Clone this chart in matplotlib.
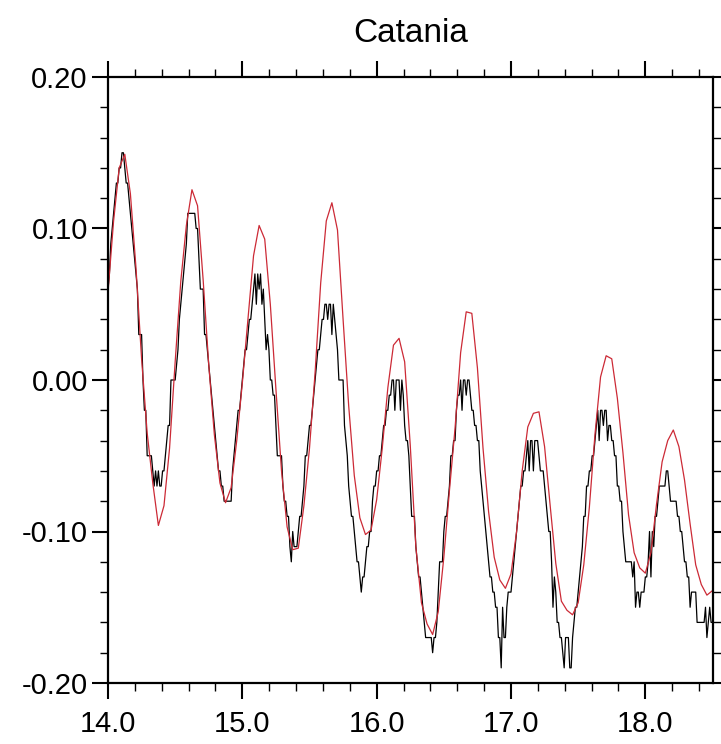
import matplotlib as mpl
mpl.use('Agg')

import numpy as np
import matplotlib.pyplot as plt
from matplotlib.ticker import MultipleLocator, FormatStrFormatter

# observed sea level (cm), sampled every 15 minutes from day 14.0
obs_start = 14.0
obs_per_day = 96
obs_cm = [
    # day 14
    6, 7, 9, 10, 11, 12, 13, 13, 14, 14, 15, 15, 14, 13, 13, 12,
    11, 10, 9, 8, 7, 6, 3, 3, 3, 0, -2, -2, -5, -5, -5, -5,
    -6, -7, -6, -7, -6, -7, -7, -6, -6, -5, -4, -3, -3, 0, 0, 0,
    0, 1, 2, 4, 5, 6, 7, 8, 9, 11, 11, 11, 11, 11, 11, 10,
    10, 8, 6, 6, 6, 3, 3, 2, 1, 0, -1, -2, -3, -4, -5, -6,
    -6, -7, -7, -8, -8, -8, -8, -8, -8, -6, -5, -4, -3, -2, -2, -1,
    # day 15
    0, 1, 2, 2, 3, 4, 4, 5, 6, 7, 5, 7, 6, 7, 5, 6,
    4, 2, 3, 2, 0, 0, -1, -1, -3, -5, -5, -5, -5, -7, -8, -8,
    -9, -9, -11, -12, -10, -11, -11, -11, -10, -9, -9, -8, -7, -5, -5, -4,
    -3, -3, -2, -1, 0, 1, 2, 2, 3, 4, 4, 5, 5, 4, 5, 5,
    3, 5, 4, 3, 2, 0, 0, 0, 0, -3, -4, -5, -7, -8, -9, -9,
    -10, -11, -12, -12, -13, -14, -13, -13, -12, -11, -11, -10, -10, -8, -7, -7,
    # day 16
    -6, -6, -5, -5, -4, -3, -3, -2, -2, -1, -1, 0, 0, -2, 0, 0,
    0, -2, 0, -1, -3, -4, -4, -5, -7, -9, -9, -9, -11, -12, -13, -13,
    -14, -15, -16, -17, -17, -17, -17, -17, -18, -17, -17, -16, -14, -12, -12, -12,
    -10, -9, -9, -8, -7, -5, -5, -4, -4, -2, -1, -1, 0, -2, 0, 0,
    -1, 0, 0, -1, -2, -2, -3, -3, -4, -4, -6, -7, -8, -9, -10, -11,
    -12, -13, -13, -14, -14, -15, -15, -17, -17, -19, -15, -17, -17, -15, -14, -14,
    # day 17
    -14, -13, -12, -11, -10, -9, -8, -7, -7, -6, -6, -5, -4, -6, -4, -4,
    -6, -4, -4, -4, -5, -6, -6, -6, -7, -8, -9, -10, -10, -12, -15, -13,
    -14, -16, -16, -17, -17, -18, -19, -17, -17, -17, -19, -19, -17, -16, -15, -15,
    -14, -13, -12, -11, -9, -9, -7, -7, -6, -6, -5, -5, -4, -3, -2, -4,
    -2, -2, -3, -2, -2, -4, -3, -3, -4, -4, -5, -5, -7, -7, -8, -8,
    -10, -11, -12, -12, -12, -12, -12, -13, -12, -15, -14, -14, -15, -14, -14, -14,
    # day 18
    -13, -13, -12, -10, -13, -10, -11, -9, -9, -8, -7, -7, -7, -7, -7, -6,
    -6, -7, -8, -8, -8, -8, -8, -9, -9, -10, -10, -11, -12, -12, -13, -13,
    -15, -14, -14, -14, -14, -16, -16, -16, -16, -16, -16, -15, -17, -16, -15, -16,
    -16,
]

# model sea level (m), hourly from day 14.0
mod_start = 14.0
mod_per_day = 24
mod_m = [
    0.058, 0.105, 0.140, 0.149, 0.123, 0.074, 0.014, -0.035, -0.068, -0.096,
    -0.083, -0.045, 0.012, 0.065, 0.102, 0.1256, 0.115, 0.066, 0.010, -0.036,
    -0.068, -0.081, -0.071, -0.040, -0.002, 0.040, 0.082, 0.102, 0.093, 0.050,
    -0.006, -0.060, -0.097, -0.112, -0.111, -0.083, -0.045, 0.005, 0.064, 0.105,
    0.117, 0.099, 0.040, -0.017, -0.063, -0.091, -0.102, -0.099, -0.079, -0.045,
    -0.005, 0.023, 0.0275, 0.012, -0.043, -0.110, -0.147, -0.161, -0.168, -0.153,
    -0.117, -0.073, -0.032, 0.018, 0.045, 0.044, 0.008, -0.045, -0.087, -0.117,
    -0.132, -0.1375, -0.128, -0.100, -0.060, -0.031, -0.022, -0.021, -0.044, -0.083,
    -0.121, -0.146, -0.152, -0.155, -0.147, -0.122, -0.084, -0.036, 0.002, 0.016,
    0.014, -0.012, -0.048, -0.089, -0.114, -0.124, -0.1275, -0.114, -0.082, -0.054,
    -0.040, -0.033, -0.044, -0.066, -0.095, -0.122, -0.135, -0.142, -0.139,
]

title = 'Catania'
xticks = [14.0, 15.0, 16.0, 17.0, 18.0]
yticks = [-0.20, -0.10, 0.00, 0.10, 0.20]

plt.rcParams['font.family'] = ['Liberation Sans', 'DejaVu Sans']
plt.rcParams['axes.unicode_minus'] = False

obs_t = obs_start + np.arange(len(obs_cm)) / obs_per_day
obs = np.array(obs_cm) / 100.0
mod_t = mod_start + np.arange(len(mod_m)) / mod_per_day

fig = plt.figure(figsize=(7.21, 7.44), dpi=100)
ax = fig.add_axes([108 / 721, 61 / 744, 604.5 / 721, 606 / 744])

ax.plot(obs_t, obs, color='black', lw=0.9)
ax.plot(mod_t, mod_m, color='#cc2a36', lw=0.9)

ax.set_xlim(14.0, 18.5)
ax.set_ylim(-0.20, 0.20)
ax.set_xticks(xticks)
ax.set_yticks(yticks)
ax.xaxis.set_minor_locator(MultipleLocator(0.2))
ax.yaxis.set_minor_locator(MultipleLocator(0.02))
ax.xaxis.set_major_formatter(FormatStrFormatter('%.1f'))
ax.yaxis.set_major_formatter(FormatStrFormatter('%.2f'))

for s in ax.spines.values():
    s.set_linewidth(1.6)
ax.tick_params(which='both', direction='out', top=True, right=True,
               labeltop=False, labelright=False)
ax.tick_params(which='major', length=11.5, width=1.5, labelsize=21)
ax.tick_params(which='minor', length=5.5, width=1.0)
ax.tick_params(axis='x', which='major', pad=8)
ax.tick_params(axis='y', which='major', pad=3)

fig.text(411 / 721, 1 - 42 / 744, title, ha='center', va='baseline', fontsize=24)

fig.savefig('out.png', dpi=100)
